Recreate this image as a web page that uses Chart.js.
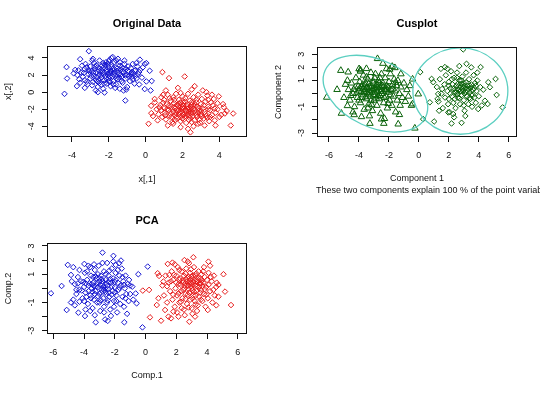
<!DOCTYPE html>
<html><head><meta charset="utf-8">
<style>
html,body{margin:0;padding:0;background:#fff;width:540px;height:393px;overflow:hidden}
canvas{position:absolute}
</style>
<script src="https://cdn.jsdelivr.net/npm/chart.js@4.4.1/dist/chart.umd.min.js"></script>
</head><body>
<canvas id="c1" width="270" height="196" style="left:0;top:0"></canvas>
<canvas id="c2" width="270" height="200" style="left:270px;top:0"></canvas>
<canvas id="c3" width="270" height="196" style="left:0;top:197px"></canvas>
<script>
// ---------- data ----------
const origBlue = [
[-3.08,4.8],[-4.4,-0.2],[-4.29,2.93],[-4.26,1.6],[-3.73,0.7],[-3.82,2.6],[-3.55,3.86],[-3.26,3.3],[-2.86,3.9],[-2.59,0],[-2.23,-0.05],[-1.78,4.1],[-1.1,-0.98],[-1.2,0.2],[-0.31,3.8],[-0.05,3.3],[-0.05,0.36],[0.04,1.25],[0.27,0.2],[0.33,1.3],[0.22,2.5],[0.04,3.4],
[-3.5,2.3],[-3.4,1.8],[-3.3,2.7],[-3.2,1.2],[-3.1,2.1],[-3.0,3.0],[-3.0,1.6],[-2.9,2.5],[-2.9,0.8],[-2.8,3.4],[-2.8,1.9],[-2.7,2.3],[-2.7,1.4],[-2.6,2.9],[-2.6,0.6],[-2.5,2.0],[-2.5,3.7],[-2.5,1.1],[-2.4,2.6],[-2.4,1.7],[-2.35,3.1],[-2.3,2.2],[-2.3,0.4],[-2.25,1.4],[-2.2,2.8],[-2.2,1.9],[-2.15,3.5],[-2.1,2.4],[-2.1,1.0],[-2.05,2.0],[-2.0,2.9],[-2.0,1.6],[-1.95,3.8],[-1.9,2.5],[-1.9,2.2],[-1.9,0.7],[-1.85,3.2],[-1.8,1.8],[-1.8,2.7],[-1.75,1.3],[-1.7,3.5],[-1.7,2.3],[-1.65,1.9],[-1.6,2.9],[-1.6,0.9],[-1.55,2.5],[-1.5,3.9],[-1.5,1.5],[-1.45,2.1],[-1.4,3.1],[-1.4,0.4],[-1.35,2.6],[-1.3,1.8],[-1.3,2.9],[-1.25,1.1],[-1.2,2.3],[-1.15,3.3],[-1.1,1.6],[-1.05,2.7],[-1.0,2.0],[-1.0,0.6],[-0.95,3.0],[-0.9,2.4],[-0.85,1.3],[-0.8,2.8],[-0.75,1.8],[-0.7,3.3],[-0.65,2.2],[-0.6,1.0],[-0.55,2.6],[-0.5,1.6],[-0.45,3.0],[-0.4,2.1],[-0.35,0.9],[-0.3,2.6],[-0.2,1.7],[-0.15,2.9],[-0.6,2.5],[-0.9,1.9],[-3.6,1.5],[-3.7,2.0],[-3.9,2.2],[-3.45,3.1],[-3.15,0.9],[-2.75,2.7],[-2.45,2.35],[-2.15,1.65],[-1.95,1.25],[-2.65,1.75],[-2.05,3.3],[-1.75,2.05],[-1.55,2.75],[-2.35,2.45],[-1.25,2.45],[-2.55,2.55],[-3.05,2.4],[-1.85,2.95],[-2.2,3.2],[-1.45,1.7],[-0.8,2.1],[-1.65,0.5],[-2.85,1.2],[-3.3,0.5],[-2.7,0.2],[-1.85,4.0],[-2.0,3.6],[-1.6,3.7],
[-3.35,2.25],[-3.2,2.9],[-2.95,1.9],[-2.85,2.25],[-2.65,3.15],[-2.55,1.45],[-2.4,2.0],[-2.3,2.85],[-2.25,1.0],[-2.1,2.65],[-2.0,2.25],[-1.95,1.85],[-1.85,2.45],[-1.7,2.65],[-1.6,1.6],[-1.5,2.3],[-1.35,2.05],[-1.2,2.75],[-1.1,1.95],[-0.95,2.5],[-0.75,2.35],[-0.55,1.9],[-0.35,2.35],[-1.4,3.5],[-2.3,3.4],[-2.75,3.0],[-3.1,2.6],[-3.65,2.55],[-3.3,1.4],[-2.0,1.3],[-1.3,1.3],[-0.7,1.5],[-2.6,1.2],[-1.15,3.7],[-0.5,3.4],[-2.4,0.9],[-1.75,0.9],[-3.55,1.1],[-2.9,3.7],[-1.05,0.3]
];
const origRed = [
[0.91,2.34],[1.27,1.64],[2.12,1.83],[2.66,0.7],[0.16,-3.7],[2.3,-4.3],[2.43,-4.7],[4.75,-2.5],[4.62,-3.9],[3.97,-0.5],[4.2,-1.4],[4.24,-1.76],[4.1,-2.66],[3.75,-3.3],[3.79,-3.9],[3.3,0],[0.31,-2.46],[0.49,-0.8],[1.49,-3.7],[2.84,-3.7],[4.4,-2.2],
[0.5,-1.2],[0.6,-2.0],[0.7,-2.6],[0.8,-1.5],[0.85,-0.6],[0.9,-2.9],[1.0,-1.9],[1.0,-0.9],[1.05,-2.4],[1.1,-3.2],[1.15,-1.4],[1.2,-0.3],[1.25,-2.1],[1.3,-2.8],[1.35,-1.0],[1.4,-1.7],[1.45,-3.5],[1.5,-2.3],[1.5,-0.6],[1.55,-1.3],[1.6,-2.7],[1.6,-1.9],[1.65,-0.2],[1.7,-3.1],[1.7,-1.5],[1.75,-2.2],[1.8,-0.9],[1.8,-2.6],[1.85,-1.8],[1.9,-3.4],[1.9,-1.2],[1.95,-2.0],[2.0,-2.4],[2.0,-0.5],[2.05,-1.6],[2.1,-2.9],[2.1,-1.9],[2.15,-1.1],[2.2,-2.2],[2.2,-3.6],[2.25,-1.4],[2.3,-0.2],[2.3,-2.6],[2.35,-1.8],[2.4,-3.0],[2.4,-1.0],[2.45,-2.1],[2.5,-1.5],[2.55,-2.8],[2.6,-0.6],[2.6,-1.9],[2.65,-3.3],[2.7,-2.4],[2.75,-1.2],[2.8,-2.9],[2.8,-1.7],[2.85,-0.3],[2.9,-2.2],[2.95,-3.6],[3.0,-1.4],[3.0,-2.6],[3.05,-0.8],[3.1,-1.9],[3.15,-3.1],[3.2,-2.3],[3.25,-1.1],[3.3,-2.8],[3.35,-0.4],[3.4,-1.7],[3.45,-3.4],[3.5,-2.1],[3.55,-1.2],[3.6,-2.7],[3.7,-0.8],[3.75,-1.9],[3.8,-2.4],[3.9,-1.3],[0.4,-2.8],[0.3,-1.6],[0.65,-3.3],[1.2,-3.9],[1.9,-4.1],[2.6,-4.0],[3.2,-3.9],[1.1,0.2],[1.75,0.5],[2.5,0.3],[3.1,0.2],[2.05,-2.65],[1.85,-2.35],[2.25,-1.65],[1.65,-2.45],[2.45,-2.45],[2.15,-2.5],[1.95,-1.45],[2.65,-2.15],[1.45,-2.0],[2.35,-3.25],[0.95,-1.25],[1.3,-0.7],
[1.15,-2.05],[1.35,-2.55],[1.55,-1.75],[1.7,-2.85],[1.8,-1.35],[1.95,-2.75],[2.05,-1.25],[2.15,-2.15],[2.3,-1.95],[2.4,-2.75],[2.5,-1.2],[2.55,-2.35],[2.7,-1.55],[2.75,-2.7],[2.9,-1.9],[3.0,-2.2],[3.15,-1.55],[3.25,-2.55],[3.4,-2.0],[3.5,-2.9],[3.65,-1.55],[1.25,-1.6],[1.05,-2.7],[0.85,-2.1],[0.75,-1.8],[1.4,-2.9],[1.6,-3.3],[2.0,-3.1],[2.5,-3.5],[2.9,-3.2],[3.35,-3.0],[3.9,-2.0],[4.0,-2.9],[4.3,-2.5],[3.6,-0.3],[2.15,-0.7],[1.55,-0.9],[0.95,-0.3],[1.9,-0.1],[2.75,-0.9],[3.4,-0.9],[2.2,-2.85],[1.8,-2.05],[2.6,-1.55],[2.35,-2.3],[1.75,-1.65],[2.0,-1.8],[2.45,-1.75],[2.85,-2.45],[3.05,-2.85]
];
const cusTri = [
[-6.15,-0.28],[-5.46,0.31],[-5.17,-1.5],[-5.21,1.76],[-4.72,1.64],[-4.77,1.0],[-3.99,1.89],[-3.9,1.8],[-2.76,2.66],[-2.16,1.89],[-1.78,2.07],[-1.6,1.97],[-3.27,-2.27],[-2.34,-2.27],[-2.49,-1.94],[-1.38,-2.32],[-0.27,-2.63],[-0.42,1.1],[-0.04,-0.03],[-0.42,-0.79],[-4.32,-1.61],[-3.83,-1.76],[-4.77,-0.92],
[-4.7,0.3],[-4.6,-0.5],[-4.5,0.8],[-4.4,0.0],[-4.3,-1.0],[-4.25,0.5],[-4.2,1.2],[-4.1,-0.3],[-4.0,0.2],[-3.95,0.9],[-3.9,-0.7],[-3.8,0.5],[-3.75,-0.1],[-3.7,1.4],[-3.65,-1.2],[-3.6,0.3],[-3.55,0.8],[-3.5,-0.4],[-3.45,0.1],[-3.4,1.1],[-3.35,-0.8],[-3.3,0.5],[-3.25,-0.2],[-3.2,1.6],[-3.15,0.2],[-3.1,-1.3],[-3.05,0.8],[-3.0,-0.5],[-3.0,0.4],[-2.95,1.2],[-2.9,-0.1],[-2.85,0.6],[-2.8,-0.9],[-2.75,0.2],[-2.7,1.0],[-2.65,-0.4],[-2.6,0.5],[-2.55,-1.5],[-2.5,1.5],[-2.45,0.0],[-2.4,0.8],[-2.35,-0.7],[-2.3,0.3],[-2.25,1.2],[-2.2,-0.2],[-2.15,0.6],[-2.1,-1.1],[-2.05,0.1],[-2.0,0.9],[-1.95,-0.5],[-1.9,1.5],[-1.85,0.3],[-1.8,-0.9],[-1.75,0.7],[-1.7,-0.2],[-1.65,1.1],[-1.6,0.2],[-1.55,-1.4],[-1.5,0.6],[-1.45,-0.5],[-1.4,1.0],[-1.3,0.0],[-1.25,-0.9],[-1.2,0.5],[-1.1,-0.3],[-1.0,0.8],[-0.9,-0.6],[-0.8,0.3],[-0.7,-0.2],[-3.85,0.15],[-3.6,0.65],[-3.4,-0.05],[-3.15,0.55],[-2.95,0.1],[-2.75,0.45],[-2.6,-0.15],[-3.3,0.25],[-2.5,0.3],[-3.55,-0.25],[-3.05,0.95],[-2.85,-0.35],[-3.7,0.35],[-2.35,0.55],[-4.05,0.55],[-3.2,-0.55],[-2.65,0.8],[-2.15,0.35],[-3.9,1.7],[-3.5,1.9],[-2.4,2.3],[-1.95,1.85],[-4.4,-1.4],[-3.3,-1.7],[-2.3,-1.9],[-1.3,-1.6],[-5.0,-0.3],[-4.9,0.7],[-1.2,1.5],[-0.6,0.6],[-0.5,-0.9],
[-4.15,0.05],[-3.95,0.4],[-3.8,-0.3],[-3.65,0.1],[-3.45,0.45],[-3.35,0.75],[-3.25,0.05],[-3.1,0.35],[-3.0,-0.1],[-2.9,0.35],[-2.8,0.7],[-2.7,-0.2],[-2.55,0.15],[-2.45,0.6],[-2.3,-0.3],[-2.2,0.2],[-2.05,0.5],[-1.9,-0.1],[-3.75,0.7],[-3.5,1.25],[-3.15,-0.85],[-2.6,1.2],[-2.05,-0.75],[-4.35,0.3],[-4.55,-0.15],[-1.75,0.35],[-1.55,0.85],[-2.9,1.5],[-3.4,-1.1],[-4.0,-0.5]
];
const cusDia = [
[2.96,3.37],[0.09,1.64],[0.73,-0.66],[0.29,-1.94],[1.02,-2.12],[2.18,-2.27],[2.85,-2.22],[5.59,-1.05],[5.19,-0.1],[5.12,1.12],[4.12,2.02],[3.18,2.27],[1.47,1.89],[1.74,2.02],[0.85,1.12],[0.96,0.87],[4.63,0.87],[4.74,0.49],[4.41,-0.54],[4.59,-0.79],[3.96,-1.17],[1.96,-1.43],[2.29,-1.55],[1.29,-0.02],[1.25,-0.4],
[1.2,0.5],[1.3,-0.6],[1.4,1.1],[1.5,0.0],[1.6,-1.1],[1.7,0.7],[1.75,-0.3],[1.8,1.4],[1.9,0.2],[1.95,-0.8],[2.0,0.9],[2.05,-1.4],[2.1,0.4],[2.15,1.7],[2.2,-0.2],[2.25,0.7],[2.3,-0.7],[2.35,1.2],[2.4,0.1],[2.45,-1.1],[2.5,0.6],[2.55,1.6],[2.6,-0.3],[2.65,0.3],[2.7,1.0],[2.75,-0.8],[2.8,0.5],[2.85,-0.1],[2.9,1.3],[2.95,0.2],[3.0,-0.5],[3.0,0.8],[3.05,-1.3],[3.1,0.4],[3.15,1.6],[3.2,-0.2],[3.25,0.6],[3.3,-0.8],[3.35,1.1],[3.4,0.1],[3.45,-0.4],[3.5,0.7],[3.55,-1.0],[3.6,0.3],[3.65,1.4],[3.7,-0.3],[3.75,0.8],[3.8,-0.7],[3.85,0.2],[3.9,1.0],[4.0,-0.2],[4.1,0.5],[4.2,-0.9],[4.3,0.3],[2.65,0.55],[2.9,0.35],[3.1,0.15],[2.45,0.3],[2.75,0.15],[3.3,0.35],[2.55,-0.05],[3.05,0.6],[2.85,0.75],[3.45,0.45],[2.2,1.1],[2.0,-0.4],[3.6,-0.1],[1.55,0.35],[2.35,-1.8],[3.1,-1.7],[3.9,1.6],[2.7,2.1],[1.9,1.9],[3.5,2.0],[1.35,-1.3],
[2.3,0.35],[2.5,0.1],[2.6,0.75],[2.7,-0.35],[2.8,0.2],[2.95,0.55],[3.05,0.0],[3.15,0.85],[3.25,0.2],[3.4,0.6],[3.5,-0.1],[3.7,0.4],[2.4,-0.4],[2.1,0.0],[3.35,-0.35],[2.85,1.0],[2.55,1.2],[3.8,0.6],[2.0,0.6],[3.0,-0.9]
];
const pcaBlue = [
[-6.15,-0.35],[-5.46,0.17],[-5.13,-1.53],[-5.06,1.66],[-4.7,1.5],[-4.85,0.95],[-4.37,-1.72],[-3.94,-1.96],[-4.3,-0.94],[-4.85,-1.0],[-3.24,-2.4],[-2.8,2.53],[-2.09,2.3],[-2.63,-2.2],[-2.46,-2.3],[-1.38,-2.4],[-0.47,1.0],[-0.2,-2.76],[-0.8,-0.8],[-0.58,-1.06],[-3.98,1.73],[-3.72,1.6],[-1.94,1.66],[-1.72,1.78],[-1.6,1.97],[-1.07,0.6],[-0.86,0.12],[-0.64,-0.36],[0.14,1.54],
[-4.6,0.3],[-4.5,-0.4],[-4.4,0.8],[-4.3,-0.1],[-4.2,0.5],[-4.1,-0.7],[-4.0,0.1],[-3.95,1.1],[-3.9,-0.3],[-3.8,0.6],[-3.75,-1.1],[-3.7,0.2],[-3.6,-0.5],[-3.55,0.9],[-3.5,0.0],[-3.45,-1.4],[-3.4,0.4],[-3.35,-0.8],[-3.3,1.3],[-3.25,-0.2],[-3.2,0.7],[-3.15,-1.0],[-3.1,0.1],[-3.05,1.6],[-3.0,-0.4],[-3.0,0.5],[-2.95,-1.6],[-2.9,0.9],[-2.85,-0.1],[-2.8,0.3],[-2.75,-0.7],[-2.7,1.2],[-2.7,-1.3],[-2.65,0.0],[-2.6,0.6],[-2.55,-0.4],[-2.5,1.8],[-2.5,-1.0],[-2.45,0.2],[-2.4,0.9],[-2.35,-0.6],[-2.3,-1.5],[-2.25,0.4],[-2.2,1.4],[-2.15,-0.2],[-2.1,0.7],[-2.05,-0.9],[-2.0,0.1],[-1.95,1.1],[-1.9,-0.5],[-1.85,-1.7],[-1.8,0.4],[-1.75,-0.1],[-1.7,0.9],[-1.65,-1.1],[-1.6,0.2],[-1.55,1.4],[-1.5,-0.6],[-1.45,0.5],[-1.4,-1.3],[-1.35,0.0],[-1.3,0.9],[-1.25,-0.4],[-1.2,-1.8],[-1.15,0.3],[-1.1,-0.9],[-3.85,-0.6],[-3.65,0.35],[-3.35,0.15],[-3.1,-0.55],[-2.95,0.25],[-2.85,0.65],[-2.6,-0.25],[-2.4,0.45],[-3.25,0.85],[-4.05,0.45],[-2.2,-0.45],[-2.9,-0.85],[-3.45,-0.25],[-2.75,0.1],[-3.15,0.35],[-2.45,-0.05],[-1.95,0.6],[-3.6,1.5],[-4.3,1.3],[-4.7,-0.8],[-3.9,-1.5],[-2.1,1.9],[-2.8,1.8],[-1.8,1.3],[-1.0,0.2],[-1.0,-0.4],[-3.3,-1.9],[-2.25,-1.95],[-4.8,0.5],[-4.6,-1.2],
[-3.5,0.3],[-3.3,-0.4],[-3.2,0.15],[-3.0,0.7],[-2.9,-0.3],[-2.8,0.5],[-2.7,-0.1],[-2.55,0.35],[-2.4,-0.3],[-2.3,0.65],[-2.2,0.15],[-2.0,-0.3],[-3.7,-0.2],[-3.9,0.35],[-4.15,-0.15],[-4.4,0.35],[-3.4,0.8],[-3.1,1.0],[-2.6,1.0],[-2.0,0.45],[-1.7,0.05],[-1.5,0.8],[-1.9,-0.9],[-2.45,-0.85],[-3.0,-1.0],[-3.55,-0.7],[-4.0,-0.9],[-3.35,1.7],[-2.35,1.25],[-1.4,0.25],[-2.7,-1.7],[-3.8,1.2],[-4.5,-0.1],[-1.3,-0.7],[-2.05,-1.3],[-3.6,-1.6]
];
const pcaRed = [
[-0.18,-0.16],[0.23,-0.11],[0.29,-2.05],[1.01,-2.29],[1.66,-2.12],[2.85,-2.36],[2.14,-2.0],[0.73,-1.18],[0.84,-0.7],[1.44,1.73],[1.75,1.82],[2.53,2.0],[2.83,1.78],[3.11,2.2],[4.09,1.89],[5.07,1.0],[5.56,-1.18],[5.17,-0.23],[4.74,0.24],[4.63,0.4],[4.74,-0.59],[4.41,-0.11],[4.05,-1.53],[0.88,0.88],[0.79,1.07],[1.16,0.48],[1.27,-1.53],[1.49,-2.0],[1.81,-1.65],[3.22,-2.0],
[1.1,0.2],[1.2,-0.5],[1.3,0.9],[1.4,-1.0],[1.5,0.4],[1.6,-0.2],[1.7,1.2],[1.75,-0.8],[1.8,0.6],[1.9,-1.3],[1.95,0.0],[2.0,0.9],[2.05,-0.5],[2.1,1.5],[2.15,0.3],[2.2,-1.0],[2.25,0.7],[2.3,-0.2],[2.35,1.2],[2.4,-0.7],[2.45,0.4],[2.5,-1.5],[2.5,0.9],[2.55,0.0],[2.6,-0.4],[2.65,1.4],[2.7,0.5],[2.7,-1.1],[2.75,0.2],[2.8,0.8],[2.85,-0.3],[2.9,1.1],[2.9,-0.8],[2.95,0.4],[3.0,0.0],[3.0,-1.4],[3.05,0.7],[3.1,-0.5],[3.15,1.5],[3.2,0.2],[3.2,-0.9],[3.25,0.9],[3.3,-0.2],[3.35,0.5],[3.4,-1.2],[3.45,1.2],[3.5,0.1],[3.5,-0.6],[3.55,0.7],[3.6,-0.1],[3.65,1.0],[3.7,-0.9],[3.75,0.4],[3.8,-0.4],[3.85,0.8],[3.9,-1.3],[3.95,0.1],[4.0,0.6],[4.05,-0.7],[4.1,1.1],[4.2,-0.2],[4.3,0.5],[4.35,-1.0],[4.45,0.9],[4.5,-0.5],[2.6,0.35],[2.95,0.15],[3.1,0.45],[2.8,-0.05],[3.3,0.3],[2.45,-0.1],[3.15,-0.25],[2.65,0.65],[3.45,0.55],[3.0,0.85],[2.2,0.6],[3.6,0.35],[2.35,-1.4],[1.65,0.5],[2.05,-1.7],[3.35,-1.6],[3.8,1.5],[2.75,1.9],[1.9,1.7],[4.6,-1.2],[2.55,-1.9],[3.05,-1.8],[4.2,1.6],
[2.4,0.55],[2.55,0.2],[2.7,0.75],[2.75,-0.45],[2.85,0.4],[2.9,0.6],[3.0,0.3],[3.05,-0.15],[3.1,0.9],[3.2,0.55],[3.25,-0.5],[3.35,0.15],[3.4,0.75],[3.5,0.35],[3.55,-0.3],[3.65,0.55],[3.7,0.15],[3.85,-0.05],[2.3,0.25],[2.15,-0.35],[2.0,0.4],[1.85,0.95],[2.6,1.05],[2.95,1.35],[3.3,1.05],[3.75,1.2],[4.1,0.25],[4.25,0.8],[3.95,-0.45],[3.6,-0.8],[3.25,-1.15],[2.8,-1.35],[2.3,-0.95],[1.8,-0.45],[1.4,0.15],[2.6,-0.75],[3.05,-0.7],[2.2,1.3],[1.55,0.95],[4.6,0.1]
];
// cluster ellipses of the clusplot: centre, half-axes (data units), tilt (deg)
const cusEllipses = [
  {cx:-2.9, cy:0.0, a:3.7, b:2.55, angle:25},
  {cx:2.77, cy:0.2, a:3.17, b:3.29, angle:0}
];
// tick values and labels
const origXTicks = [-4,-2,0,2,4];
const origYTicks = [-4,-2,0,2,4];
const compXTicks = [-6,-4,-2,0,2,4,6];
const compYTicks = [-3,-2,-1,0,1,2,3];
const compYLabels = [-3,-1,1,2,3];
const subText = 'These two components explain 100 % of the point variability.';

// ---------- rendering ----------
const FONT = "'Liberation Sans', Arial, Helvetica, sans-serif";
Chart.defaults.font.family = FONT;
Chart.defaults.color = '#111';
const INK = '#111';
const pts = a => a.map(p => ({x:p[0], y:p[1]}));

function axisX(ticks, min, max, title, height, padB) {
  return {
    type:'linear', position:'bottom', min, max,
    afterBuildTicks: s => { s.ticks = ticks.map(v => ({value:v})); },
    afterFit: s => { s.height = height; },
    ticks:{autoSkip:false, minRotation:0, maxRotation:0, padding:8.4, font:{size:9}, color:INK, callback:v => String(v)},
    grid:{drawOnChartArea:false, drawTicks:true, tickLength:5, color:INK, lineWidth:1},
    border:{display:false},
    title:{display:true, text:title, font:{size:9}, color:INK, padding:{top:0, bottom:padB}}
  };
}
function axisY(ticks, shown, min, max, title) {
  return {
    type:'linear', position:'left', min, max,
    afterBuildTicks: s => { s.ticks = ticks.map(v => ({value:v})); },
    afterFit: s => { s.width = 47; },
    ticks:{autoSkip:false, minRotation:90, maxRotation:90, crossAlign:'center', padding:6.3, font:{size:9}, color:INK,
      callback:v => shown.includes(v) ? String(v) : ''},
    grid:{drawOnChartArea:false, drawTicks:true, tickLength:5, color:INK, lineWidth:1},
    border:{display:false},
    title:{display:true, text:title, font:{size:9}, color:INK, padding:{top:2.9, bottom:0}}
  };
}
const boxPlugin = {
  id:'rbox',
  afterDraw(chart){
    const {ctx, chartArea:a} = chart;
    ctx.save(); ctx.strokeStyle = INK; ctx.lineWidth = 1;
    ctx.strokeRect(Math.round(a.left)+0.5, Math.round(a.top)+0.5, Math.round(a.right-a.left)-1, Math.round(a.bottom-a.top)-1);
    ctx.restore();
  }
};
function dataset(arr, color, style, r) {
  return {data:pts(arr), showLine:false, pointStyle:style, pointRadius:r, pointHoverRadius:r,
    pointBorderWidth:1, borderColor:color, pointBorderColor:color, pointBackgroundColor:'rgba(0,0,0,0)', backgroundColor:'rgba(0,0,0,0)'};
}
function titleOpt(text, padTop, padBottom) {
  return {display:true, text, fullSize:false, color:'#000', font:{size:11, weight:'bold'}, padding:{top:padTop, bottom:padBottom}};
}
function baseOptions(title, scales) {
  return {
    responsive:false, animation:false, events:[],
    layout:{padding:{left:0, right:23, top:0, bottom:0}},
    plugins:{legend:{display:false}, tooltip:{enabled:false}, title},
    scales
  };
}

const BLUE = '#1616d0', RED = '#e61c1c', GREEN = '#0a620a';

new Chart(document.getElementById('c1'), {
  type:'scatter',
  data:{datasets:[dataset(origBlue, BLUE, 'rectRot', 2.8), dataset(origRed, RED, 'rectRot', 2.8)]},
  options: baseOptions(titleOpt('Original Data', 17.4, 15.4), {
    x: axisX(origXTicks, -5.35, 5.5, 'x[,1]', 59, 11.2),
    y: axisY(origYTicks, origYTicks, -5.25, 5.4, 'x[,2]')
  }),
  plugins:[boxPlugin]
});

const ellipsePlugin = {
  id:'ellipses',
  afterDatasetsDraw(chart){
    const {ctx} = chart, xs = chart.scales.x, ys = chart.scales.y;
    ctx.save(); ctx.strokeStyle = '#5ccfc1'; ctx.lineWidth = 1.3;
    for (const e of cusEllipses) {
      const cx = xs.getPixelForValue(e.cx), cy = ys.getPixelForValue(e.cy);
      const rx = Math.abs(xs.getPixelForValue(e.cx + e.a) - cx);
      const ry = Math.abs(ys.getPixelForValue(e.cy + e.b) - cy);
      ctx.beginPath(); ctx.ellipse(cx, cy, rx, ry, e.angle*Math.PI/180, 0, 2*Math.PI); ctx.stroke();
    }
    ctx.restore();
  }
};
const subPlugin = {
  id:'subline',
  afterDraw(chart){
    const {ctx, chartArea:a} = chart;
    ctx.save(); ctx.font = '9px ' + FONT; ctx.fillStyle = INK; ctx.textBaseline = 'middle'; ctx.textAlign = 'left';
    ctx.fillText(subText, a.left - 1, chart.height - 9.3);
    ctx.restore();
  }
};
new Chart(document.getElementById('c2'), {
  type:'scatter',
  data:{datasets:[dataset(cusTri, GREEN, 'triangle', 3.8), dataset(cusDia, GREEN, 'rectRot', 2.8)]},
  options: baseOptions(titleOpt('Cusplot', 17.4, 16.4), {
    x: axisX(compXTicks, -6.8, 6.55, 'Component 1', 63, 15.6),
    y: axisY(compYTicks, compYLabels, -3.3, 3.55, 'Component 2')
  }),
  plugins:[ellipsePlugin, boxPlugin, subPlugin]
});

new Chart(document.getElementById('c3'), {
  type:'scatter',
  data:{datasets:[dataset(pcaBlue, BLUE, 'rectRot', 2.8), dataset(pcaRed, RED, 'rectRot', 2.8)]},
  options: baseOptions(titleOpt('PCA', 17.4, 15.4), {
    x: axisX(compXTicks, -6.41, 6.6, 'Comp.1', 59, 12.2),
    y: axisY(compYTicks, compYLabels, -3.23, 3.21, 'Comp.2')
  }),
  plugins:[boxPlugin]
});
</script>
</body></html>
